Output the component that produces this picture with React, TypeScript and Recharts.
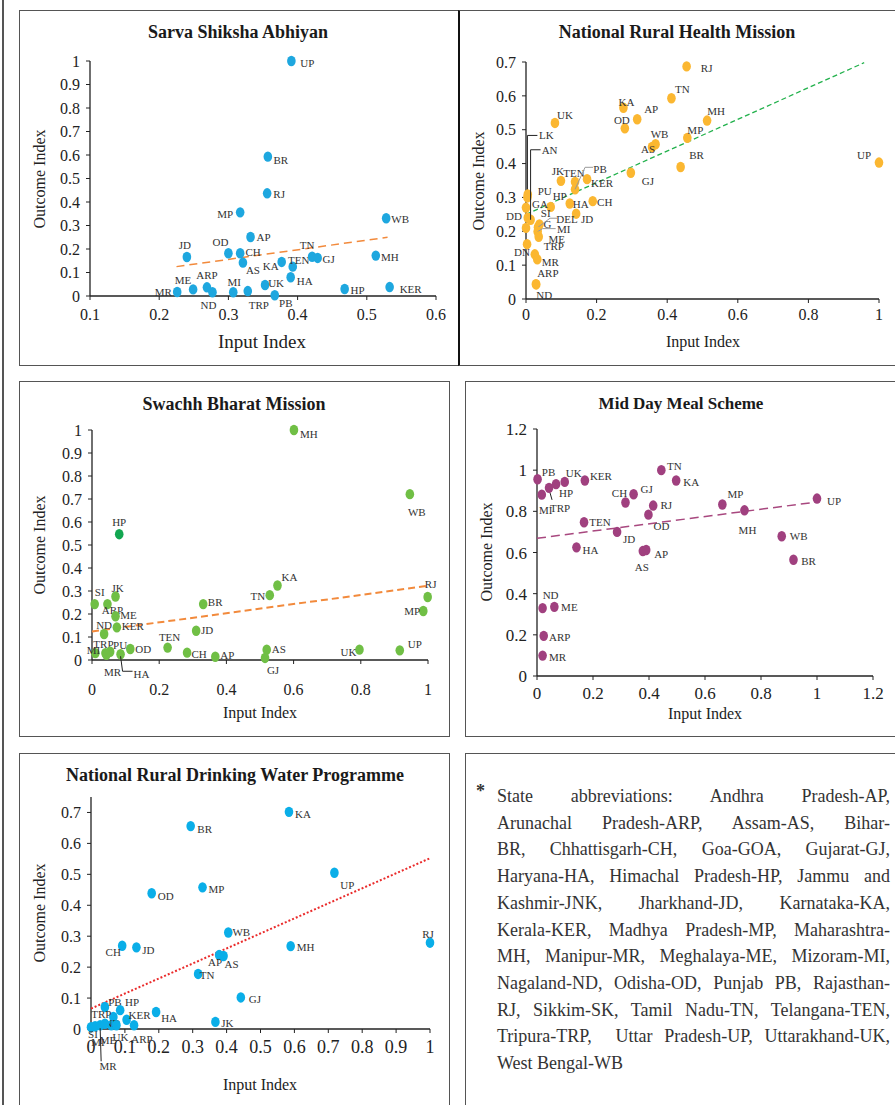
import React from 'react';
import { ScatterChart, Scatter, XAxis, YAxis } from 'recharts';

const FONT = '"Liberation Serif", "Times New Roman", serif';

type Pt = [string, number, number];

// ---- Sarva Shiksha Abhiyan ----
const ssaPoints: Pt[] = [
  ['UP', 0.391, 1.0], ['BR', 0.357, 0.593], ['RJ', 0.356, 0.437], ['MP', 0.317, 0.356],
  ['WB', 0.528, 0.331], ['AP', 0.332, 0.251], ['JD', 0.24, 0.166], ['OD', 0.3, 0.182],
  ['CH', 0.317, 0.182], ['AS', 0.321, 0.142], ['KA', 0.377, 0.145], ['TEN', 0.393, 0.125],
  ['TN', 0.421, 0.167], ['GJ', 0.429, 0.162], ['MH', 0.513, 0.172], ['HA', 0.39, 0.08],
  ['UK', 0.353, 0.047], ['MI', 0.307, 0.016], ['TRP', 0.328, 0.021], ['PB', 0.367, 0.003],
  ['ND', 0.277, 0.016], ['ARP', 0.269, 0.037], ['ME', 0.249, 0.028], ['MR', 0.226, 0.017],
  ['HP', 0.468, 0.03], ['KER', 0.533, 0.038],
];
const ssaTrend = [[0.225, 0.125], [0.53, 0.25]];
const ssaXTicks = [0.1, 0.2, 0.3, 0.4, 0.5, 0.6];
const ssaYTicks = [0, 0.1, 0.2, 0.3, 0.4, 0.5, 0.6, 0.7, 0.8, 0.9, 1];

// ---- National Rural Health Mission ----
const nrhmPoints: Pt[] = [
  ['RJ', 0.455, 0.687], ['TN', 0.412, 0.593], ['KA', 0.276, 0.565], ['AP', 0.315, 0.531],
  ['OD', 0.28, 0.504], ['MH', 0.513, 0.527], ['UK', 0.082, 0.52], ['MP', 0.457, 0.476],
  ['WB', 0.367, 0.457], ['AS', 0.357, 0.449], ['BR', 0.438, 0.39], ['UP', 1.0, 0.403],
  ['GJ', 0.297, 0.373], ['JK', 0.099, 0.349], ['TEN', 0.139, 0.346], ['PB', 0.139, 0.324],
  ['KER', 0.173, 0.354], ['CH', 0.189, 0.289], ['HA', 0.124, 0.282], ['HP', 0.07, 0.272],
  ['JD', 0.142, 0.252], ['LK', 0.004, 0.3], ['PU', 0.005, 0.309], ['GA', 0.0, 0.27],
  ['SI', 0.005, 0.24], ['AN', 0.013, 0.234], ['DD', 0.0, 0.21], ['G', 0.038, 0.22],
  ['DEL', 0.034, 0.212], ['MI', 0.033, 0.199], ['ME', 0.036, 0.184], ['DN', 0.003, 0.162],
  ['TRP', 0.025, 0.132], ['MR', 0.032, 0.117], ['ARP', 0.028, 0.044], ['ND', 0.029, 0.043],
];
const nrhmTrend = [[0, 0.25], [0.958, 0.698]];
const nrhmXTicks = [0, 0.2, 0.4, 0.6, 0.8, 1];
const nrhmYTicks = [0, 0.1, 0.2, 0.3, 0.4, 0.5, 0.6, 0.7];

// ---- Swachh Bharat Mission ----
const sbmPoints: Pt[] = [
  ['MH', 0.601, 1.0], ['WB', 0.946, 0.721], ['HP', 0.081, 0.547], ['KA', 0.552, 0.324],
  ['TN', 0.529, 0.282], ['RJ', 0.999, 0.274], ['MP', 0.986, 0.213], ['BR', 0.331, 0.243],
  ['JD', 0.31, 0.127], ['SI', 0.008, 0.243], ['JK', 0.07, 0.276], ['ARP', 0.046, 0.243],
  ['ME', 0.07, 0.19], ['KER', 0.074, 0.142], ['ND', 0.036, 0.113], ['TEN', 0.225, 0.054],
  ['OD', 0.114, 0.048], ['CH', 0.283, 0.032], ['AP', 0.367, 0.014], ['AS', 0.52, 0.045],
  ['GJ', 0.515, 0.009], ['UK', 0.796, 0.045], ['UP', 0.916, 0.042], ['MI', 0.01, 0.03],
  ['TRP', 0.04, 0.03], ['PU', 0.054, 0.036], ['MR', 0.043, 0.023], ['HA', 0.085, 0.025],
];
const sbmTrend = [[0, 0.124], [0.997, 0.322]];
const sbmXTicks = [0, 0.2, 0.4, 0.6, 0.8, 1];
const sbmYTicks = [0, 0.1, 0.2, 0.3, 0.4, 0.5, 0.6, 0.7, 0.8, 0.9, 1];

// ---- Mid Day Meal Scheme ----
const mdmPoints: Pt[] = [
  ['PB', 0.002, 0.956], ['MI', 0.017, 0.881], ['TRP', 0.043, 0.914], ['HP', 0.068, 0.932],
  ['UK', 0.099, 0.943], ['KER', 0.171, 0.95], ['TEN', 0.168, 0.747], ['HA', 0.141, 0.625],
  ['TN', 0.444, 1.0], ['KA', 0.497, 0.95], ['CH', 0.316, 0.843], ['GJ', 0.345, 0.883],
  ['RJ', 0.415, 0.828], ['OD', 0.398, 0.784], ['JD', 0.286, 0.7], ['AS', 0.378, 0.607],
  ['AP', 0.39, 0.612], ['MP', 0.662, 0.833], ['MH', 0.741, 0.805], ['UP', 1.0, 0.862],
  ['WB', 0.874, 0.679], ['BR', 0.916, 0.565], ['ND', 0.02, 0.33], ['ME', 0.062, 0.336],
  ['ARP', 0.024, 0.195], ['MR', 0.02, 0.099],
];
const mdmTrend = [[0, 0.669], [0.986, 0.843]];
const mdmXTicks = [0, 0.2, 0.4, 0.6, 0.8, 1, 1.2];
const mdmYTicks = [0, 0.2, 0.4, 0.6, 0.8, 1, 1.2];

// ---- National Rural Drinking Water Programme ----
const nrdwpPoints: Pt[] = [
  ['KA', 0.584, 0.702], ['BR', 0.294, 0.656], ['UP', 0.718, 0.505], ['MP', 0.329, 0.458],
  ['OD', 0.179, 0.439], ['WB', 0.405, 0.312], ['RJ', 1.0, 0.279], ['MH', 0.589, 0.268],
  ['CH', 0.092, 0.269], ['JD', 0.134, 0.264], ['AP', 0.378, 0.239], ['AS', 0.391, 0.236],
  ['TN', 0.316, 0.178], ['GJ', 0.442, 0.102], ['HA', 0.192, 0.055], ['JK', 0.367, 0.023],
  ['PB', 0.041, 0.071], ['HP', 0.086, 0.061], ['TRP', 0.066, 0.039], ['KER', 0.105, 0.03],
  ['ND', 0.06, 0.012], ['UK', 0.075, 0.012], ['ARP', 0.127, 0.012], ['SI', 0.0, 0.006],
  ['MI', 0.012, 0.009], ['MR', 0.027, 0.012], ['ME', 0.041, 0.017],
];
const nrdwpTrend = [[0, 0.066], [1.0, 0.552]];
const nrdwpXTicks = [0, 0.1, 0.2, 0.3, 0.4, 0.5, 0.6, 0.7, 0.8, 0.9, 1];
const nrdwpYTicks = [0, 0.1, 0.2, 0.3, 0.4, 0.5, 0.6, 0.7];

const noteLines = [
  'State abbreviations: Andhra Pradesh-AP,',
  'Arunachal Pradesh-ARP, Assam-AS, Bihar-',
  'BR, Chhattisgarh-CH, Goa-GOA, Gujarat-GJ,',
  'Haryana-HA, Himachal Pradesh-HP, Jammu and',
  'Kashmir-JNK, Jharkhand-JD, Karnataka-KA,',
  'Kerala-KER, Madhya Pradesh-MP, Maharashtra-',
  'MH, Manipur-MR, Meghalaya-ME, Mizoram-MI,',
  'Nagaland-ND, Odisha-OD, Punjab PB, Rajasthan-',
  'RJ, Sikkim-SK, Tamil Nadu-TN, Telangana-TEN,',
  'Tripura-TRP,  Uttar Pradesh-UP, Uttarakhand-UK,',
  'West Bengal-WB',
];

// label offsets (label centre relative to dot centre, px)
const ssaLabels: Record<string, number[]> = {
  UP: [16, 2], BR: [13, 3], RJ: [12, 1], MP: [-15, 2], WB: [14, 1], AP: [13, 0], JD: [-2, -12],
  OD: [-8, -11], CH: [13, -1], AS: [10, 7], KA: [-11, 4], TEN: [6, -7], TN: [-5, -12], GJ: [11, 1],
  MH: [14, 1], HA: [14, 4], UK: [11, -2], MI: [1, -10], TRP: [11, 14], PB: [11, 8], ND: [-4, 13],
  ARP: [0, -12], ME: [-10, -9], MR: [-14, 0], HP: [13, 1], KER: [21, 2],
};
const nrhmLabels: Record<string, number[]> = {
  RJ: [20, 2], TN: [11, -9], KA: [3, -6], AP: [14, -10], OD: [-3, -8], MH: [9, -10], UK: [10, -8],
  MP: [8, -8], WB: [4, -10], AS: [-4, 2], BR: [16, -12], UP: [-15, -8], GJ: [17, 8], JK: [-3, -10],
  TEN: [-1, -9], PB: [25, -20], KER: [15, 4], CH: [12, 1], HA: [11, 0], HP: [9, -11], JD: [11, 5],
  PU: [17, -3], GA: [14, -4], SI: [18, -5], AN: [19, -70], DD: [-12, -12], G: [8, -1], DEL: [29, -8],
  MI: [26, -3], ME: [18, 2], DN: [-5, 8], TRP: [19, -8], MR: [13, 3], ARP: [12, -11], ND: [8, 11],
  LK: [19, -62],
};
const nrhmLeaders: Record<string, { pts: number[][]; color: string }> = {
  LK: { pts: [[0, 0], [0, -62], [10, -62]], color: '#222' },
  AN: { pts: [[0, 0], [0, -70], [10, -70]], color: '#222' },
  PB: { pts: [[0, 0], [10, -22], [18, -22]], color: '#999' },
  DEL: { pts: [[0, 0], [12, -9], [19, -9]], color: '#999' },
  MI: { pts: [[0, 0], [5, -3], [18, -3]], color: '#999' },
};
const sbmLabels: Record<string, number[]> = {
  MH: [15, 4], WB: [7, 18], HP: [0, -12], KA: [12, -8], TN: [-12, 1], RJ: [3, -13], MP: [-11, 0],
  BR: [12, -2], JD: [11, -1], SI: [5, -12], JK: [2, -9], ARP: [5, 6], ME: [13, -1], KER: [16, -1],
  ND: [0, -9], TEN: [2, -11], OD: [13, 0], CH: [12, 1], AP: [12, -2], AS: [12, -1], GJ: [8, 12],
  UK: [-11, 2], UP: [15, -6], MI: [-2, -3], TRP: [-2, -9], PU: [10, -7], MR: [6, 17], HA: [21, 20],
};
const sbmLeaders: Record<string, { pts: number[][]; color: string }> = {
  HA: { pts: [[0, 2], [2, 17], [12, 17]], color: '#222' },
};
const sbmColors: Record<string, string> = { HP: '#12a650' };
const mdmLabels: Record<string, number[]> = {
  PB: [11, -7], MI: [4, 15], TRP: [11, 20], HP: [10, 9], UK: [9, -9], KER: [16, -4], TEN: [16, 0],
  HA: [14, 3], TN: [13, -4], KA: [15, 2], CH: [-6, -9], GJ: [13, -5], RJ: [13, -1], OD: [13, 11],
  JD: [12, 7], AS: [-1, 16], AP: [15, 4], MP: [13, -11], MH: [3, 20], UP: [17, 2], WB: [17, 0],
  BR: [15, 1], ND: [8, -13], ME: [15, 0], ARP: [16, 1], MR: [15, 1],
};
const mdmLeaders: Record<string, { pts: number[][]; color: string }> = {
  TRP: { pts: [[1, 5], [3, 12]], color: '#222' },
};
const nrdwpLabels: Record<string, number[]> = {
  KA: [14, 2], BR: [14, 3], UP: [13, 12], MP: [14, 2], OD: [14, 3], WB: [13, 0], RJ: [-2, -9],
  MH: [15, 1], CH: [-9, 6], JD: [12, 3], AP: [-4, 7], AS: [8, 8], TN: [9, 1], GJ: [14, 2],
  HA: [13, 6], JK: [12, 1], PB: [10, -5], HP: [12, -8], TRP: [-12, -3], KER: [13, -5], ND: [1, -2],
  UK: [4, 12], ARP: [8, 14], SI: [2, 7], MI: [3, 16], MR: [8, 41], ME: [3, 16],
};
const nrdwpLeaders: Record<string, { pts: number[][]; color: string }> = {
  MR: { pts: [[0, 3], [1, 36]], color: '#222' },
};

type Layout = {
  box: { l: number; t: number; w: number; h: number };
  plot: { x0: number; x1: number; y0: number; y1: number };
  title: { cx: number; cy: number; size: number };
  yLabel: { cx: number; cy: number };
  xLabel: { cx: number; cy: number; size: number };
  xTickMargin: number;
  xTickSize: number;
  yTickSize: number;
};

type PanelProps = {
  title: string;
  points: Pt[];
  trend: number[][];
  xTicks: number[];
  yTicks: number[];
  xDomain: number[];
  yDomain: number[];
  color: string;
  trendColor: string;
  trendDash: string;
  trendWidth: number;
  labels: Record<string, number[]>;
  leaders?: Record<string, { pts: number[][]; color: string }>;
  colors?: Record<string, string>;
  layout: Layout;
};

const Y_AXIS_W = 40;
const X_AXIS_H = 30;

function Panel(p: PanelProps) {
  const { box, plot } = p.layout;
  const margin = {
    top: plot.y0 - box.t,
    left: plot.x0 - box.l - Y_AXIS_W,
    right: box.l + box.w - plot.x1,
    bottom: box.t + box.h - plot.y1 - X_AXIS_H,
  };
  const data = p.points.map(([name, x, y]) => ({ name, x, y }));
  const trendData = p.trend.map(([x, y]) => ({ x, y }));

  const shape = (props: any) => {
    const cx = props.cx ?? props.x + (props.width || 0) / 2;
    const cy = props.cy ?? props.y + (props.height || 0) / 2;
    const name: string = props.payload?.name ?? '';
    const off = p.labels[name] ?? [12, 0];
    const lead = p.leaders?.[name];
    return (
      <g>
        <ellipse cx={cx} cy={cy} rx={4.3} ry={5.2} fill={p.colors?.[name] ?? p.color} />
        {lead && (
          <polyline
            points={lead.pts.map(([a, b]) => `${cx + a},${cy + b}`).join(' ')}
            fill="none"
            stroke={lead.color}
            strokeWidth={1}
          />
        )}
        <text
          x={cx + off[0]}
          y={cy + off[1]}
          textAnchor="middle"
          dominantBaseline="central"
          fontSize={11}
          fontFamily={FONT}
          fill="#333"
        >
          {name}
        </text>
      </g>
    );
  };

  const axisLine = { stroke: '#222', strokeWidth: 1.3 };
  return (
    <>
      <div style={{ position: 'absolute', left: box.l, top: box.t }}>
        <ScatterChart width={box.w} height={box.h} margin={margin}>
          <XAxis
            type="number"
            dataKey="x"
            domain={p.xDomain}
            ticks={p.xTicks}
            interval={0}
            height={X_AXIS_H}
            tickSize={4}
            tickMargin={p.layout.xTickMargin}
            axisLine={axisLine}
            tickLine={{ stroke: '#222' }}
            tick={{ fill: '#222', fontSize: p.layout.xTickSize, fontFamily: FONT }}
          />
          <YAxis
            type="number"
            dataKey="y"
            domain={p.yDomain}
            ticks={p.yTicks}
            interval={0}
            width={Y_AXIS_W}
            tickSize={4}
            tickMargin={6}
            axisLine={axisLine}
            tickLine={{ stroke: '#222' }}
            tick={{ fill: '#222', fontSize: p.layout.yTickSize, fontFamily: FONT }}
          />
          <Scatter
            data={trendData}
            fill={p.trendColor}
            line={{ stroke: p.trendColor, strokeWidth: p.trendWidth, strokeDasharray: p.trendDash }}
            shape={() => <g />}
            isAnimationActive={false}
          />
          <Scatter data={data} fill={p.color} shape={shape} isAnimationActive={false} />
        </ScatterChart>
      </div>
      <div
        style={{
          position: 'absolute',
          left: p.layout.title.cx,
          top: p.layout.title.cy,
          transform: 'translate(-50%, -50%)',
          whiteSpace: 'nowrap',
          fontFamily: FONT,
          fontWeight: 'bold',
          fontSize: p.layout.title.size,
          color: '#1a1a1a',
        }}
      >
        {p.title}
      </div>
      <div
        style={{
          position: 'absolute',
          left: p.layout.yLabel.cx,
          top: p.layout.yLabel.cy,
          transform: 'translate(-50%, -50%) rotate(-90deg)',
          whiteSpace: 'nowrap',
          fontFamily: FONT,
          fontSize: 16,
          color: '#222',
        }}
      >
        Outcome Index
      </div>
      <div
        style={{
          position: 'absolute',
          left: p.layout.xLabel.cx,
          top: p.layout.xLabel.cy,
          transform: 'translate(-50%, -50%)',
          whiteSpace: 'nowrap',
          fontFamily: FONT,
          fontSize: p.layout.xLabel.size,
          color: '#222',
        }}
      >
        Input Index
      </div>
    </>
  );
}

const boxStyle = (l: number, t: number, w: number, h: number, extra: React.CSSProperties = {}): React.CSSProperties => ({
  position: 'absolute',
  left: l,
  top: t,
  width: w,
  height: h,
  boxSizing: 'border-box',
  border: '1.5px solid #555',
  ...extra,
});

export default function App() {
  return (
    <div
      style={{
        position: 'absolute',
        left: 0,
        top: 0,
        width: 895,
        height: 1105,
        overflow: 'hidden',
        background: '#fff',
        fontFamily: FONT,
      }}
    >
      <div style={{ position: 'absolute', left: 2, top: 0, width: 2, height: 1105, background: '#555' }} />
      <div style={boxStyle(19, 10, 440, 356)} />
      <div style={boxStyle(458, 10, 450, 356, { borderLeft: '2.5px solid #111' })} />
      <div style={boxStyle(19, 381, 431, 356)} />
      <div style={boxStyle(465, 381, 440, 356)} />
      <div style={boxStyle(19, 753, 431, 370)} />
      <div style={boxStyle(465, 753, 440, 370)} />

      <Panel
        title="Sarva Shiksha Abhiyan"
        points={ssaPoints}
        trend={ssaTrend}
        xTicks={ssaXTicks}
        yTicks={ssaYTicks}
        xDomain={[0.1, 0.6]}
        yDomain={[0, 1]}
        color="#1ea7df"
        trendColor="#f28a3c"
        trendDash="8 5"
        trendWidth={1.5}
        labels={ssaLabels}
        layout={{
          box: { l: 19, t: 10, w: 439, h: 356 },
          plot: { x0: 90, x1: 436, y0: 61, y1: 296 },
          title: { cx: 238, cy: 32, size: 18 },
          yLabel: { cx: 40, cy: 179 },
          xLabel: { cx: 262, cy: 342, size: 19 },
          xTickMargin: 9,
          xTickSize: 16,
          yTickSize: 16,
        }}
      />
      <Panel
        title="National Rural Health Mission"
        points={nrhmPoints}
        trend={nrhmTrend}
        xTicks={nrhmXTicks}
        yTicks={nrhmYTicks}
        xDomain={[0, 1]}
        yDomain={[0, 0.7]}
        color="#fbb731"
        trendColor="#22b14c"
        trendDash="5 3"
        trendWidth={1.3}
        labels={nrhmLabels}
        leaders={nrhmLeaders}
        layout={{
          box: { l: 458, t: 10, w: 437, h: 356 },
          plot: { x0: 526, x1: 879, y0: 62, y1: 299 },
          title: { cx: 677, cy: 32, size: 18 },
          yLabel: { cx: 479, cy: 181 },
          xLabel: { cx: 703, cy: 342, size: 16 },
          xTickMargin: 6,
          xTickSize: 16,
          yTickSize: 16,
        }}
      />
      <Panel
        title="Swachh Bharat Mission"
        points={sbmPoints}
        trend={sbmTrend}
        xTicks={sbmXTicks}
        yTicks={sbmYTicks}
        xDomain={[0, 1]}
        yDomain={[0, 1]}
        color="#70bf45"
        trendColor="#f28a3c"
        trendDash="7 4"
        trendWidth={2}
        labels={sbmLabels}
        leaders={sbmLeaders}
        colors={sbmColors}
        layout={{
          box: { l: 19, t: 381, w: 431, h: 356 },
          plot: { x0: 92, x1: 428, y0: 430, y1: 660 },
          title: { cx: 234, cy: 404, size: 18 },
          yLabel: { cx: 40, cy: 545 },
          xLabel: { cx: 260, cy: 713, size: 16 },
          xTickMargin: 20,
          xTickSize: 16,
          yTickSize: 16,
        }}
      />
      <Panel
        title="Mid Day Meal Scheme"
        points={mdmPoints}
        trend={mdmTrend}
        xTicks={mdmXTicks}
        yTicks={mdmYTicks}
        xDomain={[0, 1.2]}
        yDomain={[0, 1.2]}
        color="#a0407f"
        trendColor="#a8487f"
        trendDash="9 5"
        trendWidth={1.5}
        labels={mdmLabels}
        leaders={mdmLeaders}
        layout={{
          box: { l: 465, t: 381, w: 430, h: 356 },
          plot: { x0: 537, x1: 873, y0: 429, y1: 676 },
          title: { cx: 681, cy: 404, size: 17 },
          yLabel: { cx: 487, cy: 552 },
          xLabel: { cx: 705, cy: 714, size: 16 },
          xTickMargin: 7,
          xTickSize: 17,
          yTickSize: 17,
        }}
      />
      <Panel
        title="National Rural Drinking Water Programme"
        points={nrdwpPoints}
        trend={nrdwpTrend}
        xTicks={nrdwpXTicks}
        yTicks={nrdwpYTicks}
        xDomain={[0, 1]}
        yDomain={[0, 0.75]}
        color="#0aaee8"
        trendColor="#ea2b2b"
        trendDash="2 2"
        trendWidth={2}
        labels={nrdwpLabels}
        leaders={nrdwpLeaders}
        layout={{
          box: { l: 19, t: 753, w: 431, h: 352 },
          plot: { x0: 91, x1: 430, y0: 797, y1: 1029 },
          title: { cx: 235, cy: 775, size: 18 },
          yLabel: { cx: 40, cy: 913 },
          xLabel: { cx: 260, cy: 1085, size: 16 },
          xTickMargin: 7,
          xTickSize: 18,
          yTickSize: 16,
        }}
      />

      <div
        style={{
          position: 'absolute',
          left: 476,
          top: 781,
          fontFamily: FONT,
          fontSize: 18,
          fontWeight: 'bold',
          color: '#333',
        }}
      >
        *
      </div>
      <div
        style={{
          position: 'absolute',
          left: 497,
          top: 783,
          width: 393,
          fontFamily: FONT,
          fontSize: 18,
          lineHeight: '26.7px',
          color: '#333',
        }}
      >
        {noteLines.map((line, i) => (
          <div
            key={i}
            style={{
              textAlign: i === noteLines.length - 1 ? 'left' : 'justify',
              textAlignLast: i === noteLines.length - 1 ? 'left' : 'justify',
              whiteSpace: 'pre-wrap',
            }}
          >
            {line}
          </div>
        ))}
      </div>
    </div>
  );
}
